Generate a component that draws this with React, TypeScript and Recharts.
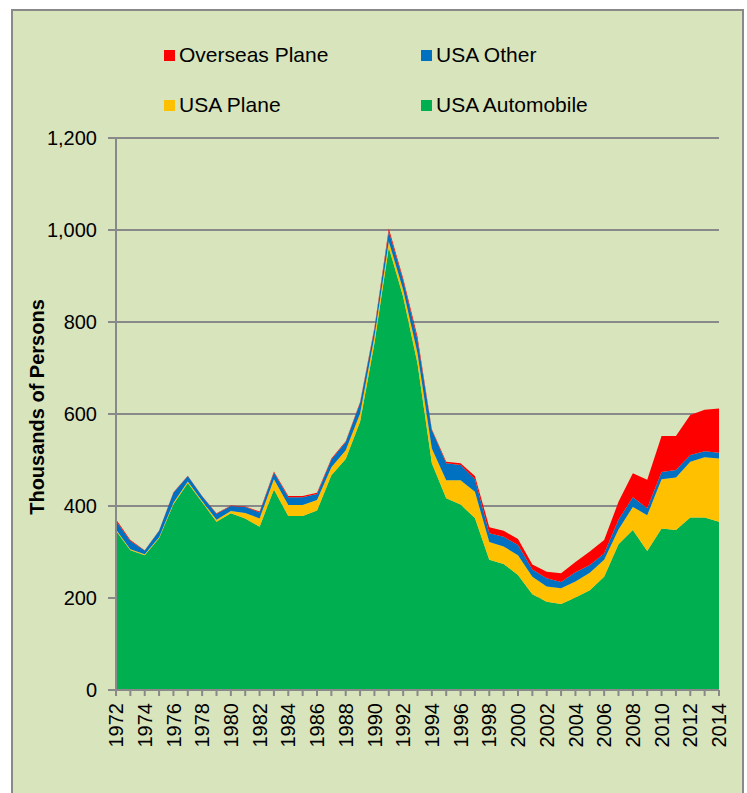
import React from 'react';
import { AreaChart, Area, XAxis, YAxis, CartesianGrid } from 'recharts';

const years = [
  1972, 1973, 1974, 1975, 1976, 1977, 1978, 1979, 1980, 1981, 1982, 1983, 1984, 1985,
  1986, 1987, 1988, 1989, 1990, 1991, 1992, 1993, 1994, 1995, 1996, 1997, 1998, 1999,
  2000, 2001, 2002, 2003, 2004, 2005, 2006, 2007, 2008, 2009, 2010, 2011, 2012, 2013, 2014,
];

const usaAutomobile = [
  346, 304, 293, 330, 404, 450, 408, 366, 384, 373, 355, 436, 378, 378,
  390, 467, 502, 583, 754, 962, 855, 710, 493, 417, 403, 374, 283, 274,
  250, 208, 192, 187, 201, 217, 246, 317, 348, 302, 351, 348, 375, 375, 366,
];

const usaPlane = [
  3, 2, 2, 2, 3, 3, 3, 4, 5, 12, 18, 22, 24, 24,
  23, 17, 19, 18, 14, 13, 15, 22, 32, 39, 53, 57, 39, 38,
  43, 38, 33, 34, 35, 38, 37, 32, 50, 78, 107, 114, 121, 131, 137,
];

const usaOther = [
  19, 18, 8, 14, 22, 12, 10, 13, 11, 13, 13, 15, 17, 17,
  13, 17, 18, 23, 17, 22, 21, 29, 40, 37, 33, 27, 19, 21,
  22, 16, 18, 14, 20, 17, 14, 21, 21, 15, 16, 16, 15, 13, 13,
];

const overseasPlane = [
  3, 2, 1, 1, 1, 1, 1, 1, 1, 1, 2, 2, 3, 3,
  3, 2, 2, 2, 3, 6, 4, 7, 2, 3, 4, 7, 13, 13,
  13, 11, 14, 19, 22, 29, 29, 39, 52, 62, 78, 74, 87, 90, 96,
];

const yTicks = [0, 200, 400, 600, 800, 1000, 1200];

const data = years.map((year, i) => ({
  year,
  auto: usaAutomobile[i],
  plane: usaPlane[i],
  other: usaOther[i],
  overseas: overseasPlane[i],
}));

const FONT = '"Liberation Sans", Arial, sans-serif';
const GRID = '#898989';

const legendItems = [
  { name: 'Overseas Plane', color: '#FF0000', x: 164, y: 50 },
  { name: 'USA Other', color: '#0070C0', x: 421, y: 50 },
  { name: 'USA Plane', color: '#FFC000', x: 164, y: 100 },
  { name: 'USA Automobile', color: '#00B050', x: 421, y: 100 },
];

const YearTick = (props: any) => {
  const { x, y, payload, index } = props;
  if (index % 2 !== 0) return <g />;
  return (
    <text
      x={x}
      y={y + 5}
      dy="0.36em"
      transform={`rotate(-90, ${x}, ${y + 5})`}
      textAnchor="end"
      fill="#000"
      fontSize={20}
      fontFamily={FONT}
    >
      {payload.value}
    </text>
  );
};

export default function App() {
  return (
    <div
      style={{
        position: 'absolute',
        left: 11,
        top: 9,
        width: 729,
        height: 800,
        border: `2px solid ${GRID}`,
        background: '#D8E4BC',
        fontFamily: FONT,
      }}
    >
      {legendItems.map((item) => (
        <div
          key={item.name}
          style={{ position: 'absolute', left: item.x - 13, top: item.y - 11, height: 11 }}
        >
          <div style={{ position: 'absolute', left: 0, top: 0, width: 11, height: 11, background: item.color }} />
          <div
            style={{
              position: 'absolute',
              left: 15,
              top: -7,
              fontSize: 21,
              lineHeight: '24px',
              whiteSpace: 'nowrap',
              color: '#000',
            }}
          >
            {item.name}
          </div>
        </div>
      ))}
      <div style={{ position: 'absolute', left: 0, top: 0 }}>
        <AreaChart
          width={729}
          height={780}
          data={data}
          margin={{ top: 127, right: 23, left: 43, bottom: 21 }}
        >
          <CartesianGrid vertical={false} stroke={GRID} strokeWidth={2} />
          <XAxis
            dataKey="year"
            interval={0}
            height={80}
            tick={<YearTick />}
            tickSize={6}
            tickLine={{ stroke: GRID, strokeWidth: 2 }}
            axisLine={{ stroke: GRID, strokeWidth: 2 }}
            padding={{ left: 0, right: 0 }}
          />
          <YAxis
            width={60}
            domain={[0, 1200]}
            ticks={yTicks}
            tickSize={8}
            tickMargin={11}
            tickFormatter={(v: number) => v.toLocaleString('en-US')}
            tick={{ fill: '#000', fontSize: 20, fontFamily: FONT }}
            tickLine={{ stroke: GRID, strokeWidth: 2 }}
            axisLine={{ stroke: GRID, strokeWidth: 2 }}
            label={{
              content: () => (
                <text
                  x={24}
                  y={396}
                  transform="rotate(-90, 24, 396)"
                  textAnchor="middle"
                  dy="0.36em"
                  fontSize={20}
                  fontWeight="bold"
                  fontFamily={FONT}
                  fill="#000"
                >
                  Thousands of Persons
                </text>
              ),
            }}
          />
          <Area
            type="linear"
            dataKey="auto"
            name="USA Automobile"
            stackId="1"
            stroke="none"
            fill="#00B050"
            fillOpacity={1}
            isAnimationActive={false}
          />
          <Area
            type="linear"
            dataKey="plane"
            name="USA Plane"
            stackId="1"
            stroke="none"
            fill="#FFC000"
            fillOpacity={1}
            isAnimationActive={false}
          />
          <Area
            type="linear"
            dataKey="other"
            name="USA Other"
            stackId="1"
            stroke="none"
            fill="#0070C0"
            fillOpacity={1}
            isAnimationActive={false}
          />
          <Area
            type="linear"
            dataKey="overseas"
            name="Overseas Plane"
            stackId="1"
            stroke="none"
            fill="#FF0000"
            fillOpacity={1}
            isAnimationActive={false}
          />
        </AreaChart>
      </div>
    </div>
  );
}
